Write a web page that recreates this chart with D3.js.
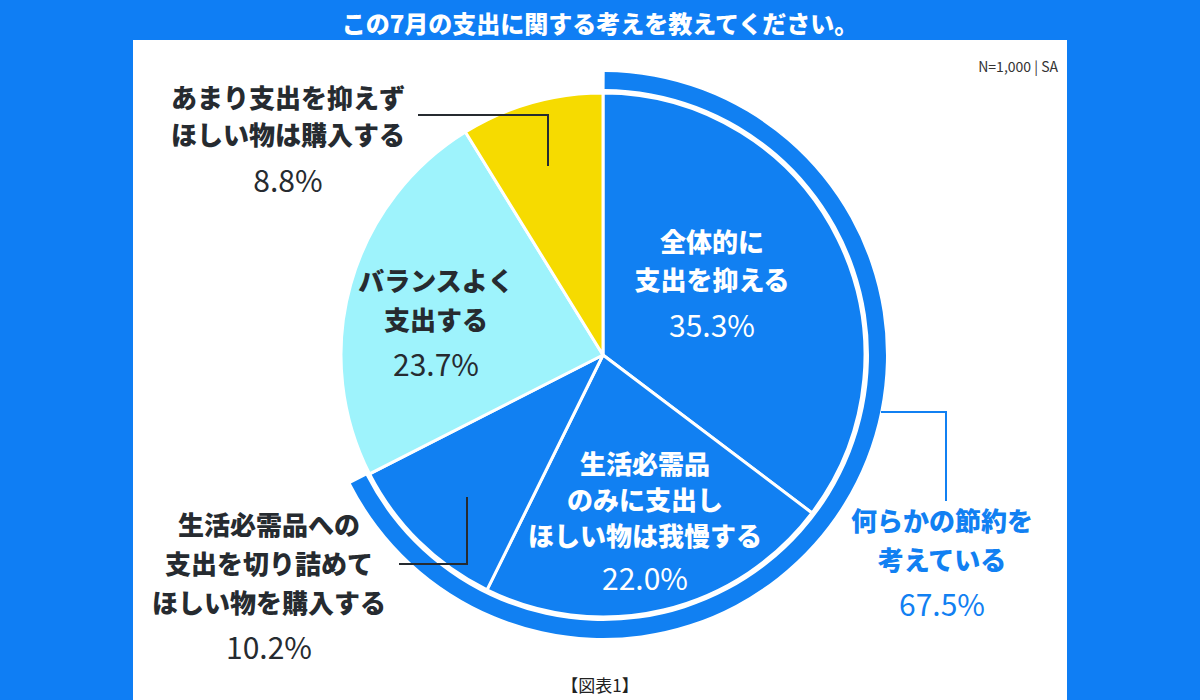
<!DOCTYPE html>
<html>
<head>
<meta charset="utf-8">
<script src="https://cdn.jsdelivr.net/npm/d3@7"></script>
<style>
  html, body { margin: 0; padding: 0; background: #0f7ef4; }
  svg { display: block; }
</style>
</head>
<body>
<svg id="chart"></svg>
<script>
// data
const categories = [
  "全体的に支出を抑える",
  "生活必需品のみに支出しほしい物は我慢する",
  "生活必需品への支出を切り詰めてほしい物を購入する",
  "バランスよく支出する",
  "あまり支出を抑えずほしい物は購入する"
];
const values = [35.3, 22.0, 10.2, 23.7, 8.8];
const savingGroup = [true, true, true, false, false]; // 何らかの節約を考えている
const titleText = "この7月の支出に関する考えを教えてください。";
const noteText = "N=1,000 | SA";
const captionText = "【図表1】";

// label lines (text only)
const labelLines = [
  ["全体的に", "支出を抑える"],
  ["生活必需品", "のみに支出し", "ほしい物は我慢する"],
  ["生活必需品への", "支出を切り詰めて", "ほしい物を購入する"],
  ["バランスよく", "支出する"],
  ["あまり支出を抑えず", "ほしい物は購入する"]
];
const groupLines = ["何らかの節約を", "考えている"];

// layout
const width = 1200, height = 700;
const cx = 603, cy = 355, r = 262;
const ringInner = 266, ringOuter = 283;
const sliceColors = ["#1180f2", "#1180f2", "#1180f2", "#9ef3fc", "#f6db00"];
const labelColors = ["#fff", "#fff", "#262b30", "#262b30", "#262b30"];
const labelPos = [
  { x: 712, y: 240, pctY: 324, pitch: 38 },
  { x: 645, y: 462, pctY: 577, pitch: 36 },
  { x: 269, y: 523, pctY: 646, pitch: 39 },
  { x: 436, y: 279, pctY: 363, pitch: 39 },
  { x: 288, y: 96, pctY: 179, pitch: 37 }
];
const font = "'Noto Sans CJK JP', 'Noto Sans', sans-serif";

const svg = d3.select("#chart").attr("width", width).attr("height", height);

// background + panel
svg.append("rect").attr("width", width).attr("height", height).attr("fill", "#0f7ef4");
svg.append("rect")
  .attr("x", 133).attr("y", 40).attr("width", 934).attr("height", 662)
  .attr("fill", "#fff");

svg.append("text")
  .attr("x", 600).attr("y", 22)
  .attr("text-anchor", "middle").attr("dominant-baseline", "central")
  .attr("fill", "#fff").attr("font-family", font).attr("font-weight", 900)
  .attr("font-size", 24)
  .text(titleText);

svg.append("text")
  .attr("x", 1058).attr("y", 66)
  .attr("text-anchor", "end").attr("dominant-baseline", "central")
  .attr("fill", "#333").attr("font-family", font).attr("font-weight", 400)
  .attr("font-size", 14)
  .text(noteText);

svg.append("text")
  .attr("x", 600).attr("y", 684)
  .attr("text-anchor", "middle").attr("dominant-baseline", "central")
  .attr("fill", "#222").attr("font-family", font).attr("font-weight", 400)
  .attr("font-size", 17)
  .text(captionText);

const g = svg.append("g").attr("transform", `translate(${cx},${cy})`);

const pie = d3.pie().sort(null).value(d => d)(values);
const arc = d3.arc().innerRadius(0).outerRadius(r);

g.selectAll("path.slice")
  .data(pie)
  .join("path")
  .attr("class", "slice")
  .attr("d", arc)
  .attr("fill", (d, i) => sliceColors[i])
  .attr("stroke", "#fff")
  .attr("stroke-width", 3)
  .attr("stroke-linejoin", "round");

// outer ring for the saving group
const savingTotal = d3.sum(values.filter((v, i) => savingGroup[i]));
const ringEnd = pie.filter((d, i) => savingGroup[i]).slice(-1)[0].endAngle;
g.append("path")
  .attr("d", d3.arc().innerRadius(ringInner).outerRadius(ringOuter)
    .startAngle(0.006).endAngle(ringEnd)())
  .attr("fill", "#1180f2");

// leader lines
const lineG = svg.append("g").attr("fill", "none").attr("stroke-width", 2);
lineG.append("path").attr("d", "M418,115H548V166").attr("stroke", "#262b30");
lineG.append("path").attr("d", "M399,564H467V497").attr("stroke", "#262b30");
lineG.append("path").attr("d", "M881,412H946V501").attr("stroke", "#1180f2");

// slice labels
pie.forEach((d, i) => {
  const p = labelPos[i];
  const t = svg.append("g");
  labelLines[i].forEach((line, k) => {
    t.append("text")
      .attr("x", p.x).attr("y", p.y + k * p.pitch)
      .attr("text-anchor", "middle").attr("dominant-baseline", "central")
      .attr("fill", labelColors[i]).attr("font-family", font)
      .attr("font-weight", 900).attr("font-size", 26)
      .text(line);
  });
  t.append("text")
    .attr("x", p.x).attr("y", p.pctY)
    .attr("text-anchor", "middle").attr("dominant-baseline", "central")
    .attr("fill", labelColors[i]).attr("font-family", font)
    .attr("font-weight", 400).attr("font-size", 30)
    .text(d3.format(".1f")(values[i]) + "%");
});

// group label
groupLines.forEach((line, k) => {
  svg.append("text")
    .attr("x", 942).attr("y", 519 + k * 39)
    .attr("text-anchor", "middle").attr("dominant-baseline", "central")
    .attr("fill", "#1180f2").attr("font-family", font)
    .attr("font-weight", 900).attr("font-size", 26)
    .text(line);
});
svg.append("text")
  .attr("x", 942).attr("y", 603)
  .attr("text-anchor", "middle").attr("dominant-baseline", "central")
  .attr("fill", "#1180f2").attr("font-family", font)
  .attr("font-weight", 400).attr("font-size", 30)
  .text(d3.format(".1f")(savingTotal) + "%");
</script>
</body>
</html>
